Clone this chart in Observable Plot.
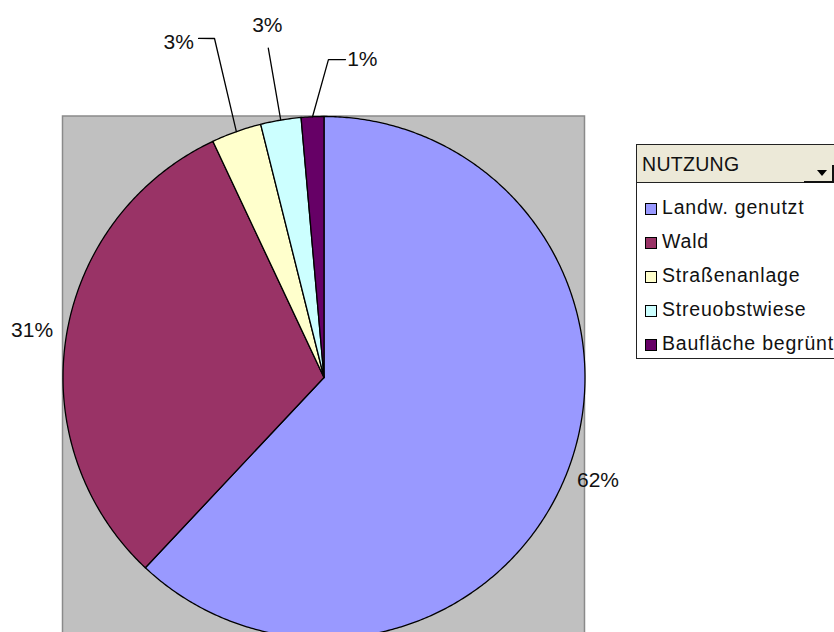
<!DOCTYPE html>
<html>
<head>
<meta charset="utf-8">
<script src="https://cdn.jsdelivr.net/npm/d3@7"></script>
<script src="https://cdn.jsdelivr.net/npm/@observablehq/plot@0.6"></script>
<style>
  html, body { margin: 0; padding: 0; background: #fff; overflow: hidden; }
  #wrap { position: relative; width: 834px; height: 632px; }
  #legend { position: absolute; left: 636px; top: 144px; width: 215px; height: 215px;
    border: 1px solid #222; background: #fff; font-family: "Liberation Sans", Arial, sans-serif;
    font-size: 19.5px; color: #111; box-sizing: border-box; }
  #legend .hdr { position: relative; height: 38px; background: #ECE9D8; border-bottom: 1px solid #222;
    box-sizing: border-box; padding-left: 5px; line-height: 38px; letter-spacing: 0.3px; }
  #legend .btn { position: absolute; left: 167px; top: 20px; width: 30px; height: 18px; background: #ECE9D8;
    border-right: 2px solid #111; border-bottom: 2px solid #111; box-sizing: border-box; }
  #legend .btn:after { content: ""; position: absolute; left: 13px; top: 5px; border-left: 5px solid transparent;
    border-right: 5px solid transparent; border-top: 6px solid #000; }
  #legend .row { position: absolute; left: 8px; height: 34px; line-height: 34px; white-space: nowrap; letter-spacing: 0.8px; }
  #legend .sw { display: inline-block; width: 10px; height: 10px; border: 1px solid #000; margin-right: 5px; vertical-align: -1px; }
</style>
</head>
<body>
<div id="wrap"></div>
<script>
// ---- data ----
const categories = ["Landw. genutzt", "Wald", "Straßenanlage", "Streuobstwiese", "Baufläche begrünt"];
const values = [62.0, 31.0, 3.1, 2.5, 1.4];
const pctLabels = ["62%", "31%", "3%", "3%", "1%"];
const colors = ["#9999FF", "#993366", "#FFFFCC", "#CCFFFF", "#660066"];
const legendTitle = "NUTZUNG";

// ---- layout (label placement, polar: radius factor, angle offset from slice middle) ----
const labelPlace = [[1.1215, -1.0], [1.133, 0.2], [1.40, -3.8], [1.366, 0.4], [1.227, 9.4]];
// leader polylines after the arc point: [radius factor, absolute angle]
const leaders = [null, null, [[1.365, 342.1], [1.385, 339.7]], [[1.28, 350.4]], [[1.218, 0.8], [1.221, 3.87]]];

const W = 834, H = 632, cx = 323.5, cy = 377, R = 261;
const total = d3.sum(values);
const polar = (r, deg) => {
  const t = deg * Math.PI / 180;
  return {x: r * Math.sin(t), y: r * Math.cos(t)};
};

let acc = 0;
const slices = values.map((v, i) => {
  const a0 = acc / total * 360;
  acc += v;
  const a1 = acc / total * 360;
  return {name: categories[i], a0, a1, mid: (a0 + a1) / 2, label: pctLabels[i]};
});

const slicePts = [];
slices.forEach(s => {
  slicePts.push({name: s.name, x: 0, y: 0});
  const n = Math.max(4, Math.ceil((s.a1 - s.a0) / 0.5));
  for (let k = 0; k <= n; k++) {
    const p = polar(1, s.a0 + (s.a1 - s.a0) * k / n);
    slicePts.push({name: s.name, x: p.x, y: p.y});
  }
});

const labelPts = slices.map((s, i) => {
  const p = polar(labelPlace[i][0], s.mid + labelPlace[i][1]);
  return {x: p.x, y: p.y, text: s.label};
});

const leaderPts = [];
slices.forEach((s, i) => {
  if (!leaders[i]) return;
  const p0 = polar(1, s.mid);
  leaderPts.push({id: i, x: p0.x, y: p0.y});
  leaders[i].forEach(([r, a]) => { const p = polar(r, a); leaderPts.push({id: i, x: p.x, y: p.y}); });
});

const chart = Plot.plot({
  width: W, height: H, margin: 0,
  style: {background: "#fff", fontFamily: "'Liberation Sans', Arial, sans-serif"},
  x: {domain: [-cx / R, (W - cx) / R], axis: null},
  y: {domain: [-(H - cy) / R, cy / R], axis: null},
  color: {domain: categories, range: colors},
  marks: [
    Plot.rect([{x1: -1.0, x2: 1.0, y1: -1.2, y2: 1.0}], {x1: "x1", x2: "x2", y1: "y1", y2: "y2", fill: "#C0C0C0", stroke: "#8a8a8a", strokeWidth: 1.5}),
    Plot.line(slicePts, {x: "x", y: "y", z: "name", fill: "name", stroke: "#000", strokeWidth: 1.3, curve: "linear-closed", strokeLinejoin: "round"}),
    Plot.line(leaderPts, {x: "x", y: "y", z: "id", stroke: "#000", strokeWidth: 1.3}),
    Plot.text(labelPts, {x: "x", y: "y", text: "text", fontSize: 21, fill: "#111"})
  ]
});
document.getElementById("wrap").appendChild(chart);

// ---- legend ----
const lg = document.createElement("div");
lg.id = "legend";
const hdr = document.createElement("div");
hdr.className = "hdr";
hdr.textContent = legendTitle;
const btn = document.createElement("div");
btn.className = "btn";
hdr.appendChild(btn);
lg.appendChild(hdr);
categories.forEach((c, i) => {
  const row = document.createElement("div");
  row.className = "row";
  row.style.top = (45 + i * 34) + "px";
  const sw = document.createElement("span");
  sw.className = "sw";
  sw.style.background = colors[i];
  row.appendChild(sw);
  row.appendChild(document.createTextNode(c));
  lg.appendChild(row);
});
document.getElementById("wrap").appendChild(lg);
</script>
</body>
</html>
